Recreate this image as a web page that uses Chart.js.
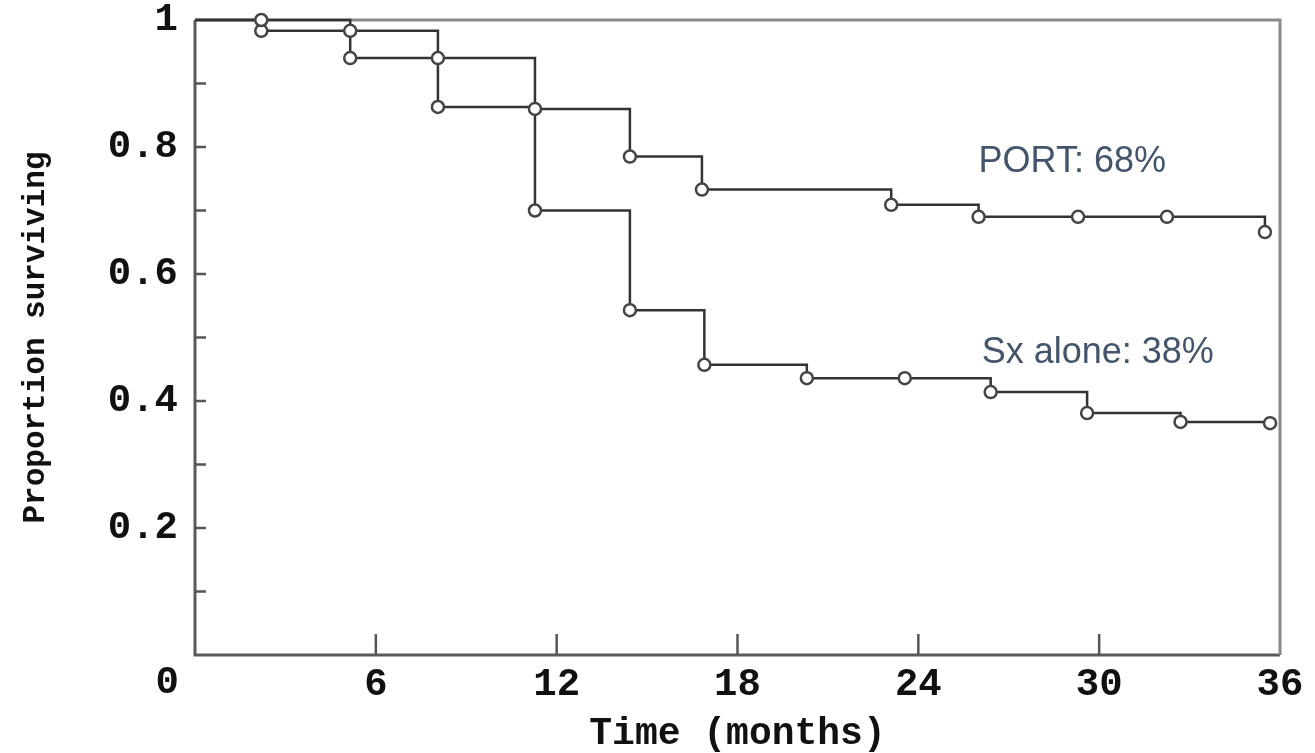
<!DOCTYPE html>
<html>
<head>
<meta charset="utf-8">
<script src="https://cdn.jsdelivr.net/npm/chart.js@4"></script>
<style>
  html, body { margin: 0; padding: 0; background: #fff; }
  #wrap { width: 1315px; height: 753px; }
</style>
</head>
<body>
<div id="wrap"><canvas id="myChart" width="1315" height="753"></canvas></div>
<script>
// Kaplan-Meier curves (months, proportion surviving)
const portMonths = [0, 2.2, 5.15, 8.06, 11.28, 14.43, 16.82, 23.1, 26.0, 29.3, 32.25, 35.5];
const portSurv = [1, 1, 0.983, 0.94, 0.86, 0.785, 0.733, 0.709, 0.69, 0.69, 0.69, 0.666];

const sxMonths = [0, 2.2, 5.15, 8.06, 11.28, 14.43, 16.9, 20.3, 23.55, 26.4, 29.6, 32.7, 35.67];
const sxSurv = [1, 0.983, 0.94, 0.863, 0.70, 0.543, 0.457, 0.436, 0.436, 0.414, 0.381, 0.367, 0.365];

const xTicks = [0, 6, 12, 18, 24, 30, 36];
const yMinorTicks = [0.1, 0.2, 0.3, 0.4, 0.5, 0.6, 0.7, 0.8, 0.9];

const labels = [
  { text: "PORT: 68%", x: 26.0, y: 0.76 },
  { text: "Sx alone: 38%", x: 26.1, y: 0.46 }
];

const tickFont = { family: "'Liberation Mono', monospace", size: 39, weight: "bold", lineHeight: 1 };

const toPoints = (xs, ys) => xs.map((m, i) => ({ x: m, y: ys[i] }));
const radii = (xs) => xs.map((m, i) => (i === 0 ? 0 : 6));

// frame, inward ticks and the lone "0" at the bottom left
const frame = {
  id: "frame",
  beforeDatasetsDraw(chart) {
    const { ctx, chartArea: a, scales } = chart;
    ctx.save();
    ctx.strokeStyle = "#5a5a5a";
    ctx.lineWidth = 3;
    ctx.beginPath();
    ctx.moveTo(a.left, a.top);
    ctx.lineTo(a.left, a.bottom);
    ctx.lineTo(a.right, a.bottom);
    ctx.stroke();
    ctx.strokeStyle = "#8a8a8a";
    ctx.beginPath();
    ctx.moveTo(a.left, a.top);
    ctx.lineTo(a.right, a.top);
    ctx.lineTo(a.right, a.bottom);
    ctx.stroke();

    ctx.strokeStyle = "#555";
    ctx.lineWidth = 2.5;
    yMinorTicks.forEach((v) => {
      const y = scales.y.getPixelForValue(v);
      ctx.beginPath();
      ctx.moveTo(a.left, y);
      ctx.lineTo(a.left + 11, y);
      ctx.stroke();
    });
    xTicks.slice(1, -1).forEach((v) => {
      const x = scales.x.getPixelForValue(v);
      ctx.beginPath();
      ctx.moveTo(x, a.bottom);
      ctx.lineTo(x, a.bottom - 21);
      ctx.stroke();
    });

    ctx.fillStyle = "#111";
    ctx.font = "bold 39px 'Liberation Mono', monospace";
    ctx.textAlign = "right";
    ctx.textBaseline = "middle";
    ctx.fillText("0", a.left - 16, a.bottom + 28);
    ctx.restore();
  },
  afterDatasetsDraw(chart) {
    const { ctx, scales } = chart;
    ctx.save();
    ctx.fillStyle = "#44546A";
    ctx.font = "36px 'Liberation Sans', Arial, sans-serif";
    ctx.textAlign = "left";
    ctx.textBaseline = "alphabetic";
    labels.forEach((l) => {
      ctx.fillText(l.text, scales.x.getPixelForValue(l.x), scales.y.getPixelForValue(l.y));
    });
    ctx.restore();
  }
};

const lineStyle = {
  stepped: "before",
  borderColor: "#333",
  borderWidth: 2.5,
  pointBackgroundColor: "#fff",
  pointBorderColor: "#444",
  pointBorderWidth: 2.5,
  fill: false,
  clip: false
};

const config = {
  type: "line",
  data: {
    datasets: [
      { label: "PORT", data: toPoints(portMonths, portSurv), pointRadius: radii(portMonths), ...lineStyle },
      { label: "Sx alone", data: toPoints(sxMonths, sxSurv), pointRadius: radii(sxMonths), ...lineStyle }
    ]
  },
  options: {
    responsive: false,
    animation: false,
    layout: { padding: { top: 20, right: 35, left: 0, bottom: 0 } },
    plugins: { legend: { display: false }, tooltip: { enabled: false } },
    scales: {
      x: {
        type: "linear",
        min: 0,
        max: 36,
        afterBuildTicks: (s) => { s.ticks = xTicks.map((v) => ({ value: v })); },
        afterFit: (s) => { s.height = 98; s.paddingLeft = 0; s.paddingRight = 0; },
        grid: { display: false },
        border: { display: false },
        ticks: {
          font: tickFont,
          color: "#111",
          padding: 3,
          maxRotation: 0,
          callback: (v) => (v === 0 ? "" : v)
        },
        title: {
          display: true,
          text: "Time (months)",
          color: "#111",
          font: { family: "'Liberation Mono', monospace", size: 38, weight: "bold", lineHeight: 1 },
          padding: { top: 0, bottom: 0 }
        }
      },
      y: {
        min: 0,
        max: 1,
        afterFit: (s) => { s.width = 195; s.paddingTop = 0; s.paddingBottom = 0; },
        grid: { display: false },
        border: { display: false },
        ticks: {
          stepSize: 0.2,
          font: tickFont,
          color: "#111",
          padding: 9,
          callback: (v) => (v === 0 ? "" : Math.round(v * 10) / 10)
        },
        title: {
          display: true,
          text: "Proportion surviving",
          color: "#111",
          font: { family: "'Liberation Mono', monospace", size: 31, weight: "bold", lineHeight: 1 },
          padding: { top: 21, bottom: 0 }
        }
      }
    }
  },
  plugins: [frame]
};

const myChart = new Chart(document.getElementById("myChart"), config);
</script>
</body>
</html>
